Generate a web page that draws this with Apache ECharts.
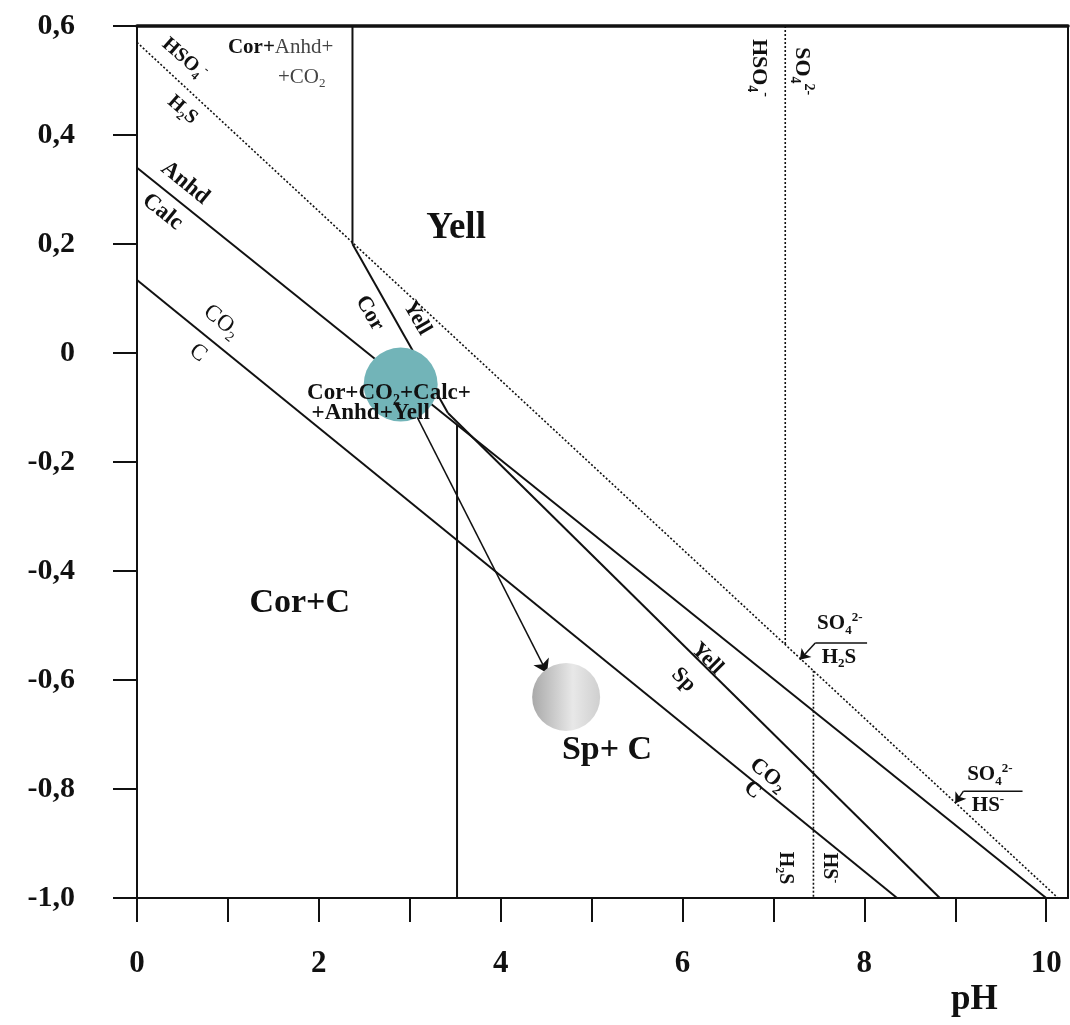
<!DOCTYPE html>
<html><head><meta charset="utf-8">
<script src="https://cdn.jsdelivr.net/npm/echarts@6/dist/echarts.min.js"></script>
<style>html,body{margin:0;padding:0;background:#fff}#c{width:1070px;height:1025px}</style>
</head><body><div id="c"></div>
<script>
// ---- axis ticks / labels ----
const xTicks = [0,1,2,3,4,5,6,7,8,9,10];
const xLabels = [0,2,4,6,8,10];
const yTicks = [-1.0,-0.8,-0.6,-0.4,-0.2,0,0.2,0.4,0.6];

// ---- boundary lines [pH, Eh] ----
const sulfurDiag = [[0,0.57],[10.13,-1.0]];
const hso4So4 = [[7.13,0.6],[7.13,-0.535]];
const h2sHs = [[7.44,-0.583],[7.44,-1.0]];
const anhdCalc = [[0,0.34],[10.0,-1.0]];
const co2C = [[0,0.134],[8.36,-1.0]];
const corYell = [[2.37,0.2],[3.42,-0.11]];
const yellSp = [[3.42,-0.11],[8.83,-1.0]];
const upperVertical = [[2.37,0.6],[2.37,0.2]];
const lowerVertical = [[3.52,-0.132],[3.52,-1.0]];

// ---- points & arrows ----
const startPoint = [2.9,-0.058];
const endPoint = [4.72,-0.631];
const pathArrow = [[2.9,-0.058],[4.51,-0.587]];
const so4H2sBar = [[8.03,-0.532],[7.46,-0.532]];
const so4H2sTip = [[7.46,-0.532],[7.29,-0.563]];
const so4HsBar = [[9.74,-0.804],[9.09,-0.804]];
const so4HsTip = [[9.09,-0.804],[9.0,-0.826]];

// ---- annotation texts and anchors [pH, Eh] ----
const annTexts = {
  hso4Diag:'{m|HSO}{s|4}{p|-}', h2sDiag:'{m|H}{s|2}{m|S}',
  anhd:'{m|Anhd}', calc:'{m|Calc}', co2L:'{m|CO}{s|2}', cL:'{m|C}',
  top1:'{m|Cor+}{g|Anhd+}', top2:'{g|+CO}{gs|2}',
  yellBig:'{m|Yell}', corR:'{m|Cor}', yellR:'{m|Yell}',
  mix1:'{m|Cor+CO}{s|2}{m|+Calc+}', mix2:'{m|+Anhd+Yell}',
  corC:'{m|Cor+C}', spC:'{m|Sp+ C}',
  yell2:'{m|Yell}', sp2:'{m|Sp}', co2R:'{m|CO}{s|2}', cR:'{m|C}',
  f1a:'{m|SO}{s|4}{p|2-}', f1b:'{m|H}{s|2}{m|S}',
  f2a:'{m|SO}{s|4}{p|2-}', f2b:'{m|HS}{p|-}',
  vHso4:'{m|HSO}{s|4}{p|-}', vSo4:'{m|SO}{s|4}{p|2-}',
  vH2s:'{m|H}{s|2}{m|S}', vHs:'{m|HS}{p|-}', pH:'pH'
};
const annAt = {
  hso4Diag:[0.52,0.54], h2sDiag:[0.50,0.446],
  anhd:[0.53,0.312], calc:[0.28,0.259], co2L:[0.93,0.058], cL:[0.67,0.0],
  top1:[1.0,0.561], top2:[1.55,0.506],
  yellBig:[3.51,0.228], corR:[2.56,0.073], yellR:[3.08,0.064],
  mix1:[1.87,-0.073], mix2:[1.92,-0.11],
  corC:[1.79,-0.459], spC:[5.17,-0.728],
  yell2:[6.27,-0.561], sp2:[6.01,-0.6], co2R:[6.94,-0.774], cR:[6.77,-0.802],
  f1a:[7.73,-0.497], f1b:[7.72,-0.558],
  f2a:[9.38,-0.774], f2b:[9.36,-0.831],
  vHso4:[6.84,0.523], vSo4:[7.31,0.517],
  vH2s:[7.13,-0.945], vHs:[7.61,-0.945]
};

const F = '"Liberation Serif", "Times New Roman", serif';
const INK = '#111';
function rich(size, weight, color){
  const sm = Math.round(size*0.62);
  return {
    m:{fontFamily:F,fontSize:size,fontWeight:weight,color:color||INK,lineHeight:Math.round(size*1.25)},
    g:{fontFamily:F,fontSize:size,fontWeight:'normal',color:'#444',lineHeight:Math.round(size*1.25)},
    gs:{fontFamily:F,fontSize:sm,fontWeight:'normal',color:'#444',lineHeight:sm,verticalAlign:'bottom'},
    s:{fontFamily:F,fontSize:sm,fontWeight:weight,color:color||INK,lineHeight:sm,verticalAlign:'bottom'},
    p:{fontFamily:F,fontSize:sm,fontWeight:weight,color:color||INK,lineHeight:sm,verticalAlign:'top'}
  };
}
const annStyle = {
  hso4Diag:[20,'bold',-41], h2sDiag:[20,'bold',-41],
  anhd:[23,'bold',-39], calc:[23,'bold',-39], co2L:[23,'normal',-39], cL:[23,'normal',-39],
  top1:[21,'bold',0,'left'], top2:[21,'normal',0,'left'],
  yellBig:[37,'bold',0], corR:[22,'bold',-60], yellR:[22,'bold',-60],
  mix1:[23,'bold',0,'left'], mix2:[23,'bold',0,'left'],
  corC:[34,'bold',0], spC:[34,'bold',0],
  yell2:[22,'bold',-45], sp2:[22,'bold',-45], co2R:[22,'bold',-39], cR:[22,'bold',-39],
  f1a:[21,'bold',0], f1b:[21,'bold',0], f2a:[21,'bold',0], f2b:[21,'bold',0],
  vHso4:[22,'bold',-90], vSo4:[22,'bold',-90], vH2s:[20,'bold',-90], vHs:[20,'bold',-90]
};
const annData = Object.keys(annAt).map(k => {
  const st = annStyle[k];
  return {
    value: annAt[k],
    label: {show:true, position:'inside', formatter:annTexts[k], rotate:st[2], align:st[3]||'center',
            verticalAlign:'middle', rich:rich(st[0], st[1])}
  };
});

function seg(data, dotted, width){
  return {type:'line', data:data, symbol:'none', silent:true, z:2, animation:false,
    lineStyle:{color:'#111', width:width||2, type:dotted?[2,2]:'solid'}};
}

const chart = echarts.init(document.getElementById('c'), null, {renderer:'canvas'});
chart.setOption({
  animation:false,
  backgroundColor:'#fff',
  grid:{left:137, right:2, top:26, bottom:127, containLabel:false},
  xAxis:[{
    type:'value', min:0, max:10.24, interval:1,
    axisLine:{onZero:false, lineStyle:{color:'#111', width:2}},
    axisTick:{customValues:xTicks, length:24, lineStyle:{color:'#111', width:2}},
    axisLabel:{customValues:xLabels, margin:50, fontFamily:F, fontSize:31, fontWeight:'bold', color:INK},
    splitLine:{show:false}
  },{
    type:'value', position:'top', min:0, max:10.24,
    axisLine:{onZero:false, lineStyle:{color:'#111', width:3.5}},
    axisTick:{show:false}, axisLabel:{show:false}, splitLine:{show:false}
  }],
  yAxis:[{
    type:'value', min:-1.0, max:0.6, interval:0.2,
    axisLine:{onZero:false, lineStyle:{color:'#111', width:2}},
    axisTick:{customValues:yTicks, length:24, lineStyle:{color:'#111', width:2}},
    axisLabel:{customValues:yTicks, margin:62, fontFamily:F, fontSize:30, fontWeight:'bold', color:INK,
      formatter:v => Math.abs(v)<1e-9 ? '0' : v.toFixed(1).replace('.', ',')},
    splitLine:{show:false}
  },{
    type:'value', position:'right', min:-1.0, max:0.6,
    axisLine:{onZero:false, lineStyle:{color:'#111', width:2}},
    axisTick:{show:false}, axisLabel:{show:false}, splitLine:{show:false}
  }],
  series:[
    seg(sulfurDiag, true, 1.6),
    seg(hso4So4, true, 1.6),
    seg(h2sHs, true, 1.6),
    seg(anhdCalc),
    seg(co2C),
    seg(corYell),
    seg(yellSp),
    seg(upperVertical),
    seg(lowerVertical),
    seg(so4H2sBar, false, 1.6),
    seg(so4HsBar, false, 1.6),
    {type:'lines', coordinateSystem:'cartesian2d', z:2, silent:true,
     symbol:['none','arrow'], symbolSize:13,
     lineStyle:{color:'#111', width:1.5, opacity:1, curveness:0},
     data:[{coords:pathArrow}]},
    {type:'lines', coordinateSystem:'cartesian2d', z:2, silent:true,
     symbol:['none','arrow'], symbolSize:10,
     lineStyle:{color:'#111', width:1.5, opacity:1, curveness:0},
     data:[{coords:so4H2sTip},{coords:so4HsTip}]},
    {type:'scatter', z:3, silent:true, symbolSize:74,
     itemStyle:{color:'#72b4b8', opacity:1},
     data:[startPoint]},
    {type:'scatter', z:3, silent:true, symbolSize:68,
     itemStyle:{opacity:1, color:new echarts.graphic.LinearGradient(0,0,1,0,[
       {offset:0,color:'#a9a9a9'},{offset:0.6,color:'#e8e8e8'},{offset:1,color:'#cfcfcf'}])},
     data:[endPoint]},
    {type:'scatter', z:5, silent:true, symbolSize:1, itemStyle:{color:'rgba(0,0,0,0)', opacity:1},
     data:annData}
  ],
  graphic:[{type:'text', left:951, top:982, z:10,
    style:{text:annTexts.pH, font:'bold 35px "Liberation Serif", serif', fill:INK}}]
});
</script>
</body></html>
